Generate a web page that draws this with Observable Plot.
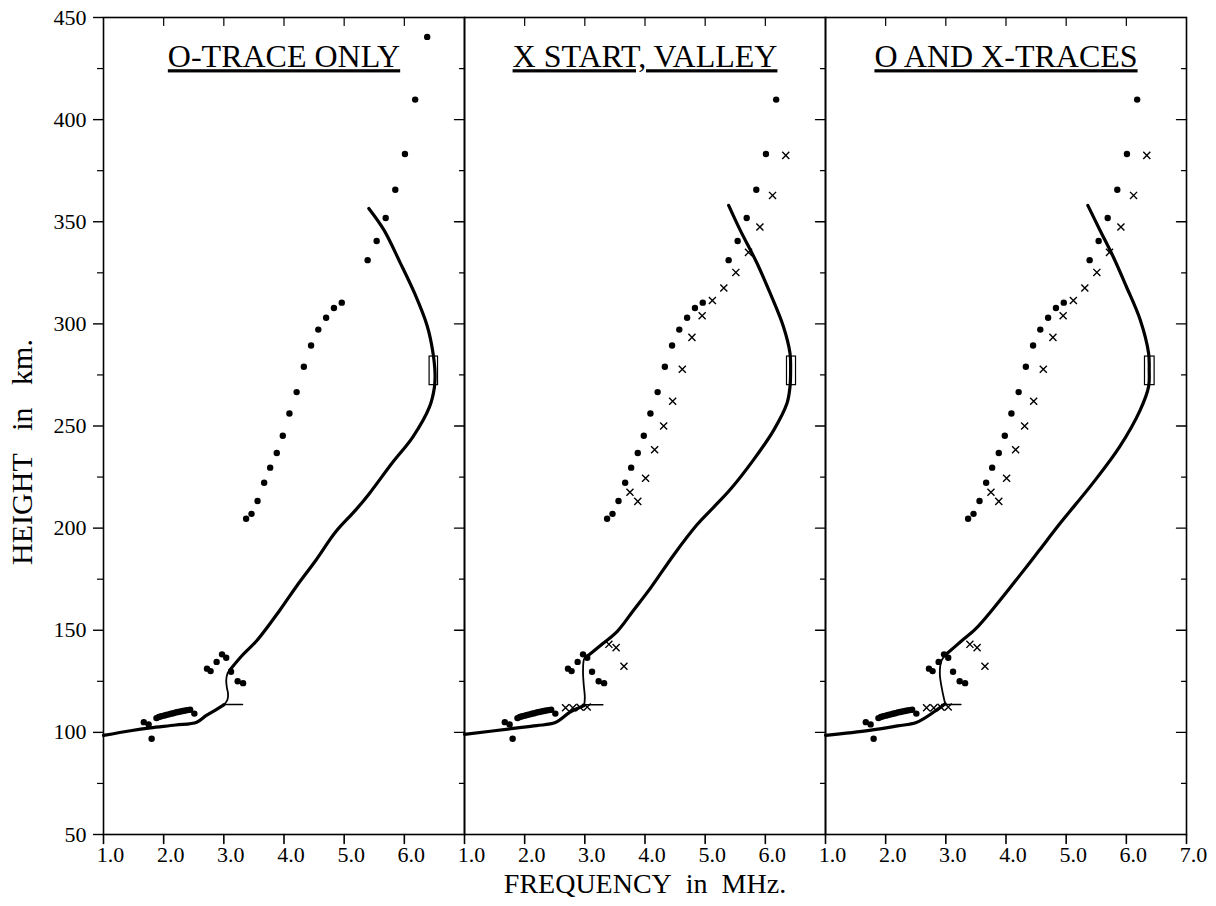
<!DOCTYPE html>
<html>
<head>
<meta charset="utf-8">
<script src="https://cdn.jsdelivr.net/npm/d3@7"></script>
<script src="https://cdn.jsdelivr.net/npm/@observablehq/plot@0.6"></script>
<style>
  body { margin: 0; background: #fff; }
  #chart svg { display: block; }
</style>
</head>
<body>
<div id="chart"></div>
<script>
// ---------- Data ----------
const panels = ["O-TRACE ONLY", "X START, VALLEY", "O AND X-TRACES"];

// O-trace virtual heights (dots), shared by all panels
const oFreq = [1.67, 1.75, 1.80, 1.88, 1.92, 1.96, 2.00, 2.04, 2.08, 2.12, 2.16, 2.20, 2.24, 2.28, 2.32, 2.36, 2.40, 2.44, 2.51,
  2.72, 2.78, 2.88, 2.97, 3.04, 3.12, 3.23, 3.32,
  3.37, 3.46, 3.56, 3.67, 3.77, 3.88, 3.98, 4.09, 4.21, 4.33, 4.45, 4.57, 4.70, 4.83, 4.96,
  5.39, 5.54, 5.69, 5.85, 6.01, 6.18];
const oHeight = [105.0, 103.9, 96.9, 107.0, 107.5, 107.9, 108.2, 108.5, 108.8, 109.1, 109.4, 109.7, 110.0, 110.2, 110.5, 110.7, 110.9, 111.1, 109.2,
  131.2, 130.0, 134.5, 138.2, 136.5, 129.7, 125.0, 124.1,
  204.6, 207.0, 213.3, 222.2, 229.6, 236.8, 245.2, 256.1, 266.6, 279.0, 289.4, 297.2, 303.0, 307.8, 310.4,
  331.2, 340.6, 351.8, 365.7, 383.2, 409.8];
// extra O point in the first panel only
const o1ExtraFreq = [6.38];
const o1ExtraHeight = [440.5];

// X-trace virtual heights (crosses), panels 2 and 3
const xFreq = [2.68, 2.80, 2.92, 3.04, 3.40, 3.52, 3.65,
  3.75, 3.88, 4.01, 4.16, 4.31, 4.46, 4.62, 4.78, 4.95, 5.12, 5.31, 5.51, 5.72, 5.91, 6.12, 6.34];
const xHeight = [112.1, 112.0, 112.3, 112.4, 143.1, 141.5, 132.4,
  217.6, 213.1, 224.4, 238.4, 250.0, 262.1, 277.8, 293.4, 304.0, 311.4, 317.6, 325.2, 335.0, 347.4, 362.9, 382.5];

// True-height profiles (solid curves): lower part, valley part, upper part
const c1LowFreq = [1.0, 1.45, 1.78, 2.2, 2.55, 2.71, 2.88, 3.0];
const c1LowHeight = [98.5, 100.8, 102.2, 103.6, 105.0, 108.3, 111.3, 113.5];
const c1ValleyFreq = [3.0, 3.06, 3.07, 3.05, 3.04, 3.06, 3.10];
const c1ValleyHeight = [113.5, 116, 119, 122, 125.5, 128.8, 130.5];
const c1HighFreq = [3.10, 3.30, 3.55, 3.93, 4.20, 4.53, 4.86, 5.19, 5.42, 5.80, 6.14, 6.42, 6.50, 6.51, 6.47, 6.38, 6.17, 5.93, 5.66, 5.41];
const c1HighHeight = [130.5, 137.5, 145, 159.8, 171.2, 184.3, 198.2, 208.8, 217, 232, 244.6, 259.5, 269, 276, 287, 299, 315, 330, 346, 356.5];

const c2LowFreq = [1.0, 1.77, 2.2, 2.51, 2.76, 2.99];
const c2LowHeight = [99.0, 101.8, 103.3, 104.8, 110.0, 113.2];
const c2ValleyFreq = [2.99, 3.0, 2.98, 2.97, 2.99, 3.03];
const c2ValleyHeight = [113.2, 117.3, 123.9, 130.4, 136.1, 137.0];
const c2HighFreq = [3.03, 3.30, 3.54, 3.81, 4.10, 4.48, 4.86, 5.15, 5.42, 5.80, 6.14, 6.36, 6.41, 6.42, 6.41, 6.30, 6.08, 5.86, 5.58, 5.39];
const c2HighHeight = [137.0, 143.5, 149.5, 159.8, 171, 187, 201.5, 210.5, 219, 233.3, 248, 261.1, 269.3, 277.5, 285.6, 298.7, 315, 329.8, 346, 358];

const c3LowFreq = [1.0, 1.73, 2.2, 2.51, 2.88, 2.99];
const c3LowHeight = [98.5, 101.0, 103.2, 104.8, 111.6, 114.0];
const c3ValleyFreq = [2.99, 2.94, 2.90, 2.93, 3.02];
const c3ValleyHeight = [114.0, 120.6, 128.8, 135.3, 138.6];
const c3HighFreq = [3.02, 3.25, 3.49, 3.80, 4.22, 4.55, 4.89, 5.44, 5.89, 6.23, 6.37, 6.38, 6.37, 6.23, 6.0, 5.78, 5.56, 5.36];
const c3HighHeight = [138.6, 144.5, 150.5, 161, 176.5, 189, 202, 221.9, 239.9, 257.8, 269.3, 277.5, 285.6, 302, 318.3, 333, 346, 358];

// Valley level markers (short horizontal lines)
const valleyMarkFreq = [[2.98, 3.31], [2.99, 3.30], [2.93, 3.25]];
const valleyMarkHeight = [[113.6, 113.6], [113.5, 113.5], [113.6, 113.6]];

// Peak (foF2 / hmF2) boxes
const peakFreqLo = [6.42, 6.36, 6.31];
const peakFreqHi = [6.56, 6.51, 6.47];
const peakHeightLo = [270, 270, 270];
const peakHeightHi = [284, 284, 284];

// Tick values
const xTickValues = [1, 2, 3, 4, 5, 6];
const xTickValuesLast = [1, 2, 3, 4, 5, 6, 7];
const xTopTicks = [2, 3, 4, 5, 6];
const yMajorTicks = [50, 100, 150, 200, 250, 300, 350, 400, 450];
const yMinorTicks = [75, 125, 175, 225, 275, 325, 375, 425];
const yInnerMajor = [100, 150, 200, 250, 300, 350, 400];

const xLabel = "FREQUENCY\u00a0\u00a0in\u00a0\u00a0MHz.";
const yLabel = "HEIGHT\u00a0\u00a0\u00a0in\u00a0\u00a0\u00a0km.";

// ---------- Build tables ----------
const rows = (panel, seg, fs, hs) => fs.map((f, i) => ({panel, seg, f, h: hs[i]}));

const curveLows = [[c1LowFreq, c1LowHeight], [c2LowFreq, c2LowHeight], [c3LowFreq, c3LowHeight]];
const curveHighs = [[c1HighFreq, c1HighHeight], [c2HighFreq, c2HighHeight], [c3HighFreq, c3HighHeight]];
const curveValleys = [[c1ValleyFreq, c1ValleyHeight], [c2ValleyFreq, c2ValleyHeight], [c3ValleyFreq, c3ValleyHeight]];

const thick = panels.flatMap((p, i) => [
  ...rows(p, p + "-low", curveLows[i][0], curveLows[i][1]),
  ...rows(p, p + "-high", curveHighs[i][0], curveHighs[i][1])
]);
const thin = panels.flatMap((p, i) => rows(p, p + "-valley", curveValleys[i][0], curveValleys[i][1]));
const valleyMarks = panels.flatMap((p, i) => rows(p, p + "-mark", valleyMarkFreq[i], valleyMarkHeight[i]));
const boxes = panels.map((p, i) => ({panel: p, x1: peakFreqLo[i], x2: peakFreqHi[i], y1: peakHeightLo[i], y2: peakHeightHi[i]}));

const oDots = [
  ...panels.flatMap(p => rows(p, "o", oFreq, oHeight)),
  ...rows(panels[0], "o", o1ExtraFreq, o1ExtraHeight)
];
const xDots = panels.slice(1).flatMap(p => rows(p, "x", xFreq, xHeight));

const bottomTicks = panels.flatMap((p, i) => (i === panels.length - 1 ? xTickValuesLast : xTickValues).map(v => ({panel: p, v})));

const lineShape = {draw(context, l) { context.moveTo(0, 0); context.lineTo(0, -l); }};

const font = "Liberation Serif, Times New Roman, serif";

const chart = Plot.plot({
  width: 1216,
  height: 906,
  marginLeft: 103,
  marginRight: 30,
  marginTop: 17,
  marginBottom: 72,
  style: {fontFamily: font, fontSize: "22px", color: "black", background: "white"},
  x: {domain: [1, 7], axis: null},
  y: {domain: [50, 450], label: null},
  fx: {domain: panels, padding: 0, axis: null},
  marks: [
    Plot.frame({stroke: "black", strokeWidth: 1.6}),
    // left y axis (outer panel only)
    Plot.axisY(yMajorTicks, {anchor: "left", tickSize: 10, tickPadding: 7, fontSize: 22, strokeWidth: 1.4, label: null}),
    Plot.axisY(yMinorTicks, {anchor: "left", tickSize: 6, tickPadding: 0, tickFormat: () => "", strokeWidth: 1.2, label: null}),
    // inward y ticks on the right edge of each panel
    Plot.vector(yInnerMajor, {y: d => d, frameAnchor: "right", rotate: -90, anchor: "start", length: 10, shape: lineShape, stroke: "black", strokeWidth: 1.4}),
    Plot.vector(yMinorTicks, {y: d => d, frameAnchor: "right", rotate: -90, anchor: "start", length: 5, shape: lineShape, stroke: "black", strokeWidth: 1.2}),
    // inward x ticks on top of each panel
    Plot.vector(xTopTicks, {x: d => d, frameAnchor: "top", rotate: 180, anchor: "start", length: 8, shape: lineShape, stroke: "black", strokeWidth: 1.2}),
    // bottom x ticks and labels
    Plot.vector(bottomTicks, {x: "v", fx: "panel", frameAnchor: "bottom", rotate: 180, anchor: "start", length: 9, shape: lineShape, stroke: "black", strokeWidth: 1.6}),
    Plot.text(bottomTicks, {x: "v", fx: "panel", frameAnchor: "bottom", dy: 27, dx: 7, text: d => d.v.toFixed(1), fontSize: 22, fill: "black"}),
    // profiles
    Plot.line(thick, {x: "f", y: "h", fx: "panel", z: "seg", stroke: "black", strokeWidth: 3.2, curve: "catmull-rom"}),
    Plot.line(thin, {x: "f", y: "h", fx: "panel", z: "seg", stroke: "black", strokeWidth: 1.8, curve: "catmull-rom"}),
    Plot.line(valleyMarks, {x: "f", y: "h", fx: "panel", z: "seg", stroke: "black", strokeWidth: 1.5}),
    Plot.rect(boxes, {x1: "x1", x2: "x2", y1: "y1", y2: "y2", fx: "panel", fill: "none", stroke: "black", strokeWidth: 1.2}),
    // data points
    Plot.dot(oDots, {x: "f", y: "h", fx: "panel", r: 3.2, fill: "black", stroke: null}),
    Plot.dot(xDots, {x: "f", y: "h", fx: "panel", symbol: "times", r: 3.3, stroke: "black", strokeWidth: 1.4}),
    // panel titles
    Plot.text(panels, {fx: d => d, text: d => d, frameAnchor: "top", dy: 27, fontSize: 32, fill: "black"}),
    // axis labels
    Plot.text([{panel: panels[1], t: xLabel}], {fx: "panel", text: "t", frameAnchor: "bottom", dy: 58, fontSize: 28, fill: "black"}),
    Plot.text([{panel: panels[0], t: yLabel}], {fx: "panel", text: "t", frameAnchor: "left", textAnchor: "middle", dx: -81, dy: 26, rotate: -90, fontSize: 30, fill: "black"})
  ]
});

document.getElementById("chart").appendChild(chart);
d3.select(chart).selectAll("text").each(function () {
  if (panels.includes(this.textContent)) d3.select(this).style("text-decoration", "underline");
});
</script>
</body>
</html>
